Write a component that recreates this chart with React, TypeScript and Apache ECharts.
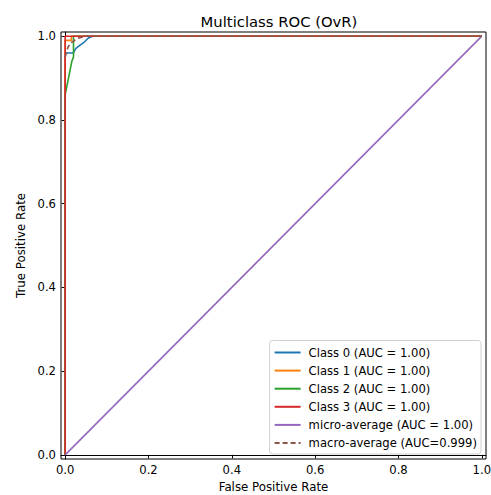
import React, { useEffect, useRef } from "react";
import * as echarts from "echarts";

const tickValues = [0, 0.2, 0.4, 0.6, 0.8, 1.0];

const class0: [number, number][] = [[0, 0], [0, 0.96], [0.02, 0.96], [0.025, 0.97], [0.035, 0.978], [0.045, 0.985], [0.055, 0.995], [0.065, 1], [1, 1]];
const class1: [number, number][] = [[0, 0], [0, 0.99], [0.015, 0.99], [0.015, 1], [1, 1]];
const class2: [number, number][] = [[0, 0], [0, 0.86], [0.004, 0.88], [0.008, 0.9], [0.012, 0.92], [0.016, 0.94], [0.02, 0.95], [0.02, 1], [1, 1]];
const class3: [number, number][] = [[0, 0], [0, 1], [1, 1]];
const microAvg: [number, number][] = [[0, 0], [1, 1]];
const macroAvg: [number, number][] = [[0, 0.95], [0.007, 0.975], [0.015, 0.985], [0.03, 0.995], [0.05, 1], [1, 1]];

const names = [
  "Class 0 (AUC = 1.00)",
  "Class 1 (AUC = 1.00)",
  "Class 2 (AUC = 1.00)",
  "Class 3 (AUC = 1.00)",
  "micro-average (AUC = 1.00)",
  "macro-average (AUC=0.999)",
];
const colors = ["#1f77b4", "#ff7f0e", "#2ca02c", "#d62728", "#9467bd", "#8c564b"];
const datasets = [class0, class1, class2, class3, microAvg, macroAvg];

export default function App() {
  const ref = useRef<HTMLDivElement>(null);
  useEffect(() => {
    if (!ref.current) return;
    const chart = echarts.init(ref.current, null, { renderer: "svg" });
    const font = "DejaVu Sans";
    chart.setOption({
      animation: false,
      backgroundColor: "#fff",
      textStyle: { fontFamily: font },
      title: {
        text: "Multiclass ROC (OvR)",
        left: 274,
        top: 9,
        textAlign: "center",
        textStyle: { fontFamily: font, fontSize: 14.8, fontWeight: "normal", color: "#000" },
      },
      grid: {
        left: 61,
        right: 5,
        top: 32,
        bottom: 36,
        containLabel: false,
        outerBoundsMode: "none",
        show: true,
        borderColor: "#000",
        borderWidth: 1,
        backgroundColor: "transparent",
      },
      xAxis: {
        type: "value",
        min: -0.01,
        max: 1.01,
        name: "False Positive Rate",
        nameLocation: "middle",
        nameGap: 22,
        nameTextStyle: { fontFamily: font, fontSize: 11.8, color: "#000" },
        splitLine: { show: false },
        axisLine: { show: true, lineStyle: { color: "#000", width: 1 } },
        axisTick: { show: true, customValues: tickValues, length: 3.5, lineStyle: { color: "#000" } },
        axisLabel: {
          customValues: tickValues,
          formatter: (v: number) => v.toFixed(1),
          fontFamily: font,
          fontSize: 11.6,
          color: "#000",
          margin: 5,
        },
      },
      yAxis: {
        type: "value",
        min: -0.01,
        max: 1.01,
        name: "True Positive Rate",
        nameLocation: "middle",
        nameGap: 34,
        nameTextStyle: { fontFamily: font, fontSize: 11.8, color: "#000" },
        splitLine: { show: false },
        axisLine: { show: true, lineStyle: { color: "#000", width: 1 } },
        axisTick: { show: true, customValues: tickValues, length: 3.5, lineStyle: { color: "#000" } },
        axisLabel: {
          customValues: tickValues,
          formatter: (v: number) => v.toFixed(1),
          fontFamily: font,
          fontSize: 11.6,
          color: "#000",
          margin: 5,
        },
      },
      legend: {
        orient: "vertical",
        right: 10,
        bottom: 41,
        itemWidth: 26,
        itemHeight: 10,
        itemGap: 6.1,
        padding: [6, 4, 5, 4],
        backgroundColor: "rgba(255,255,255,0.8)",
        borderColor: "#d0d0d0",
        borderWidth: 1,
        borderRadius: 3,
        itemStyle: { opacity: 0, borderWidth: 0 },
        textStyle: { fontFamily: font, fontSize: 11.6, color: "#000", padding: [0, 0, 0, 3] },
        data: names,
      },
      series: datasets.map((d, i) => ({
        type: "line",
        name: names[i],
        data: d,
        symbol: "none",
        color: colors[i],
        lineStyle: { color: colors[i], width: 1.6, type: i === 5 ? [5, 3] : "solid" },
        clip: false,
        z: 2 + i,
      })),
    });
    return () => chart.dispose();
  }, []);
  return (
    <div
      ref={ref}
      style={{ position: "fixed", left: 0, top: 0, width: 491, height: 495 }}
    />
  );
}
